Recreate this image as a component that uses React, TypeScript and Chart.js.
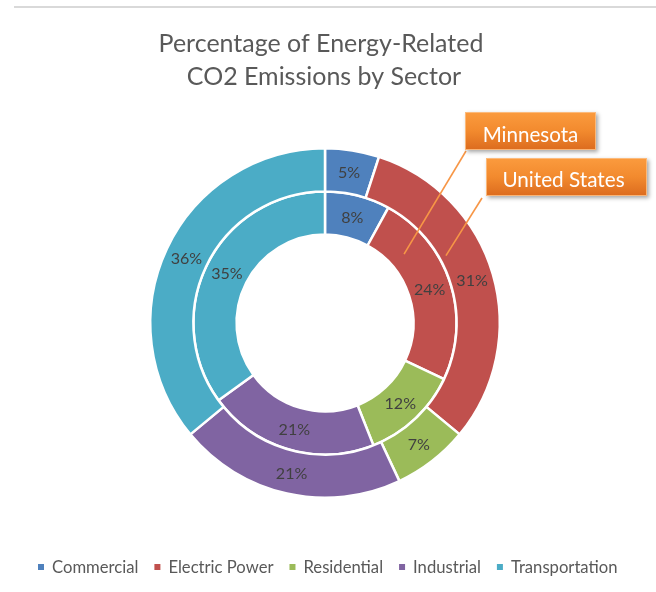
import React, { useEffect, useRef } from 'react';
import { Chart, registerables } from 'chart.js';

Chart.register(...registerables);

const sectors = ['Commercial', 'Electric Power', 'Residential', 'Industrial', 'Transportation'];
const usPercent = [5, 31, 7, 21, 36];
const mnPercent = [8, 24, 12, 21, 35];
const seriesNames = ['United States', 'Minnesota'];
const titleLines = ['Percentage of Energy-Related', 'CO2 Emissions by Sector'];
const sectorColors = ['#4F81BD', '#C0504D', '#9BBB59', '#8064A2', '#4BACC6'];

const FONT = 'Lato, "Open Sans", sans-serif';

function fitSize(ctx: CanvasRenderingContext2D, text: string, width: number): number {
  ctx.font = `100px ${FONT}`;
  const w = ctx.measureText(text).width;
  return (100 * width) / w;
}

const decorPlugin = {
  id: 'decor',
  beforeDraw(chart: any) {
    const ctx: CanvasRenderingContext2D = chart.ctx;
    ctx.save();
    ctx.fillStyle = '#FFFFFF';
    ctx.fillRect(0, 0, chart.width, chart.height);
    ctx.fillStyle = '#D9D9D9';
    ctx.fillRect(14, 6, chart.width - 14, 2);

    // title
    const tSize = fitSize(ctx, titleLines[0], 325);
    ctx.font = `${tSize}px ${FONT}`;
    ctx.fillStyle = '#595959';
    ctx.textAlign = 'center';
    ctx.textBaseline = 'alphabetic';
    ctx.fillText(titleLines[0], 321, 52);
    ctx.fillText(titleLines[1], 324, 85);

    // legend
    ctx.font = `100px ${FONT}`;
    let sum = 0;
    sectors.forEach((s) => (sum += ctx.measureText(s).width));
    const lSize = (100 * 446) / sum;
    ctx.font = `${lSize}px ${FONT}`;
    ctx.textAlign = 'left';
    let x = 38;
    sectors.forEach((s, i) => {
      ctx.fillStyle = sectorColors[i];
      ctx.fillRect(x, 564, 6, 6);
      x += 14;
      ctx.fillStyle = '#595959';
      ctx.fillText(s, x, 572.5);
      x += ctx.measureText(s).width + 16;
    });
    ctx.restore();
  },
  afterDatasetsDraw(chart: any) {
    const ctx: CanvasRenderingContext2D = chart.ctx;
    ctx.save();
    const size = fitSize(ctx, '36%', 31.5);
    ctx.font = `${size}px ${FONT}`;
    ctx.fillStyle = '#404040';
    ctx.textAlign = 'center';
    ctx.textBaseline = 'middle';
    chart.data.datasets.forEach((ds: any, di: number) => {
      const meta = chart.getDatasetMeta(di);
      meta.data.forEach((arc: any, i: number) => {
        const p = arc.tooltipPosition();
        ctx.fillText(`${ds.data[i]}%`, p.x, p.y + 1);
      });
    });
    ctx.restore();
  },
  afterDraw(chart: any) {
    const ctx: CanvasRenderingContext2D = chart.ctx;
    const anchor = (di: number, idx: number, t: number, u: number) => {
      const arc = chart.getDatasetMeta(di).data[idx];
      const p = arc.getProps(['x', 'y', 'startAngle', 'endAngle', 'innerRadius', 'outerRadius']);
      const a = p.startAngle + t * (p.endAngle - p.startAngle);
      const r = p.innerRadius + u * (p.outerRadius - p.innerRadius);
      return { x: p.x + r * Math.cos(a), y: p.y + r * Math.sin(a) };
    };
    const callouts = [
      { text: seriesNames[1], box: [465, 112, 131, 38], from: [466, 151], to: anchor(1, 1, 0.233, 0.38), textW: 95.7, tx: 530.5, ty: 141.7 },
      { text: seriesNames[0], box: [486, 158, 161, 38], from: [482, 198], to: anchor(0, 1, 0.384, 0.16), textW: 122.3, tx: 563.5, ty: 187.3 },
    ];
    ctx.save();
    ctx.strokeStyle = '#F79646';
    ctx.lineWidth = 1.6;
    callouts.forEach((c) => {
      ctx.beginPath();
      ctx.moveTo(c.from[0], c.from[1]);
      ctx.lineTo(c.to.x, c.to.y);
      ctx.stroke();
    });
    callouts.forEach((c) => {
      const [bx, by, bw, bh] = c.box;
      const g = ctx.createLinearGradient(0, by, 0, by + bh);
      g.addColorStop(0, '#FB9B3E');
      g.addColorStop(0.5, '#F28A2E');
      g.addColorStop(1, '#DC6B1E');
      ctx.save();
      ctx.shadowColor = 'rgba(0,0,0,0.35)';
      ctx.shadowOffsetX = 2;
      ctx.shadowOffsetY = 2;
      ctx.shadowBlur = 4;
      ctx.fillStyle = g;
      ctx.fillRect(bx, by, bw, bh);
      ctx.restore();
      ctx.strokeStyle = 'rgba(252,190,130,0.9)';
      ctx.lineWidth = 1;
      ctx.strokeRect(bx + 0.5, by + 0.5, bw - 1, bh - 1);
      const s = fitSize(ctx, c.text, c.textW);
      ctx.font = `${s}px ${FONT}`;
      ctx.fillStyle = '#FFFFFF';
      ctx.textAlign = 'center';
      ctx.textBaseline = 'alphabetic';
      ctx.fillText(c.text, c.tx, c.ty);
    });
    ctx.restore();
  },
};

export default function App() {
  const ref = useRef<HTMLCanvasElement>(null);
  useEffect(() => {
    if (!ref.current) return;
    const chart = new Chart(ref.current, {
      type: 'doughnut',
      data: {
        labels: sectors,
        datasets: [
          { label: seriesNames[0], data: usPercent, backgroundColor: sectorColors, borderColor: '#FFFFFF', borderWidth: 2.5 },
          { label: seriesNames[1], data: mnPercent, backgroundColor: sectorColors, borderColor: '#FFFFFF', borderWidth: 2.5 },
        ],
      },
      options: {
        responsive: false,
        devicePixelRatio: 1,
        animation: false,
        cutout: '50.6%',
        layout: { padding: { left: 149, top: 147, right: 155, bottom: 93 } },
        plugins: {
          legend: { display: false },
          title: { display: false },
          tooltip: { enabled: false },
        },
      },
      plugins: [decorPlugin],
    } as any);
    return () => chart.destroy();
  }, []);
  return (
    <div style={{ position: 'absolute', left: 0, top: 0, width: 656, height: 592, background: '#fff' }}>
      <canvas ref={ref} width={656} height={592} style={{ display: 'block' }} />
    </div>
  );
}
